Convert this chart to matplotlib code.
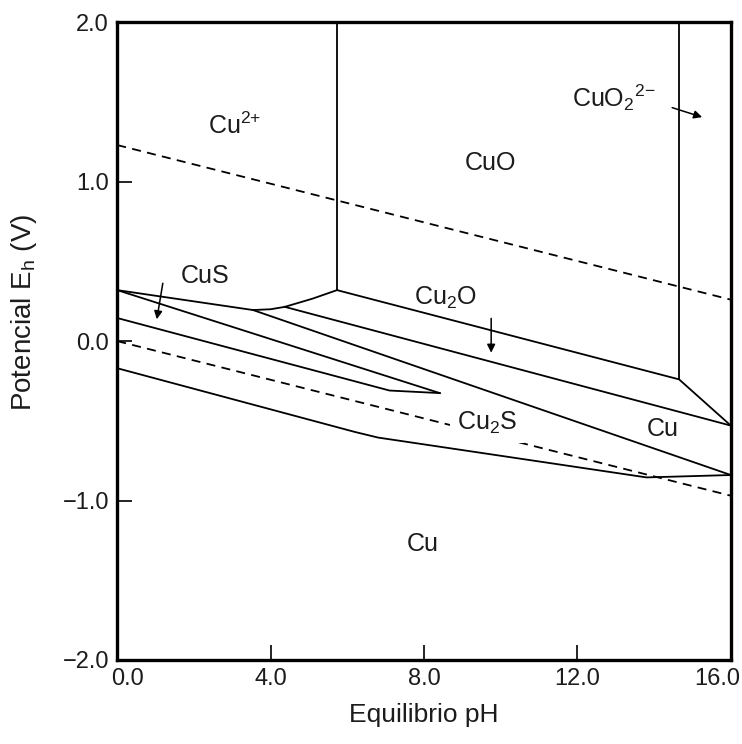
import matplotlib
matplotlib.use("Agg")
import matplotlib.pyplot as plt
import matplotlib.transforms as mtransforms

plt.rcParams["font.family"] = ["Liberation Sans", "DejaVu Sans"]
plt.rcParams["mathtext.fontset"] = "custom"
plt.rcParams["mathtext.rm"] = "Liberation Sans"
plt.rcParams["mathtext.it"] = "Liberation Sans"
plt.rcParams["mathtext.default"] = "rm"

# water stability lines (dashed)
o2_ph = [0.0, 16.0]
o2_e = [1.23, 0.26]
h2_ph = [0.0, 16.0]
h2_e = [0.0, -0.97]

# solid boundaries
cu2_cuo_ph = [5.73, 5.73]
cu2_cuo_e = [2.0, 0.32]
cuo_cuo2_ph = [14.65, 14.65]
cuo_cuo2_e = [2.0, -0.24]
cuo_cu2o_ph = [5.73, 14.65, 16.0]
cuo_cu2o_e = [0.32, -0.24, -0.53]
cus_top_ph = [0.0, 3.54, 4.0, 4.37, 5.1, 5.73]
cus_top_e = [0.32, 0.195, 0.200, 0.215, 0.267, 0.32]
cu2o_bot_ph = [4.37, 16.0]
cu2o_bot_e = [0.215, -0.53]
cu2s_top_ph = [3.54, 16.0]
cu2s_top_e = [0.195, -0.84]
cus_up_ph = [0.0, 8.41]
cus_up_e = [0.32, -0.326]
cus_low_ph = [0.0, 7.1, 8.41]
cus_low_e = [0.145, -0.31, -0.326]
cu2s_bot_ph = [0.0, 6.2, 6.8, 7.5, 8.2, 13.8, 16.0]
cu2s_bot_e = [-0.17, -0.57, -0.605, -0.63, -0.655, -0.855, -0.84]

x_ticks = [0, 4, 8, 12, 16]
x_labels = ["0.0", "4.0", "8.0", "12.0", "16.0"]
y_ticks = [-2, -1, 0, 1, 2]
y_labels = ["\u22122.0", "\u22121.0", "0.0", "1.0", "2.0"]

fig = plt.figure(figsize=(7.42, 7.44), dpi=100)
ax = fig.add_axes([0.158, 0.113, 0.827, 0.857])

lc = "black"
lw = 1.3
for xs, ys in [(cu2_cuo_ph, cu2_cuo_e), (cuo_cuo2_ph, cuo_cuo2_e), (cuo_cu2o_ph, cuo_cu2o_e),
               (cus_top_ph, cus_top_e), (cu2o_bot_ph, cu2o_bot_e), (cu2s_top_ph, cu2s_top_e),
               (cus_up_ph, cus_up_e), (cus_low_ph, cus_low_e), (cu2s_bot_ph, cu2s_bot_e)]:
    ax.plot(xs, ys, color=lc, lw=lw, solid_joinstyle="miter", zorder=3)
for xs, ys in [(o2_ph, o2_e), (h2_ph, h2_e)]:
    ax.plot(xs, ys, color=lc, lw=lw, linestyle=(0, (5, 3.5)), zorder=1)

tc = "#1c1c1c"
fs = 18
ax.text(3.07, 1.35, r"Cu$^{2{+}}$", fontsize=fs, color=tc, ha="center", va="center")
ax.text(9.72, 1.12, "CuO", fontsize=fs, color=tc, ha="center", va="center")
ax.text(12.95, 1.53, r"CuO$_2$$^{2{-}}$", fontsize=fs, color=tc, ha="center", va="center")
ax.text(2.29, 0.41, "CuS", fontsize=fs, color=tc, ha="center", va="center")
ax.text(8.57, 0.27, r"Cu$_2$O", fontsize=fs, color=tc, ha="center", va="center")
ax.text(9.64, -0.51, r"Cu$_2$S", fontsize=fs, color=tc, ha="center", va="center", zorder=2,
        bbox=dict(facecolor="white", edgecolor="none", pad=5))
ax.text(14.23, -0.55, "Cu", fontsize=fs, color=tc, ha="center", va="center")
ax.text(7.97, -1.27, "Cu", fontsize=fs, color=tc, ha="center", va="center")

arrow = dict(arrowstyle="-|>", color="black", lw=1.1, mutation_scale=12)
ax.annotate("", xy=(15.32, 1.40), xytext=(14.4, 1.47), arrowprops=arrow)
ax.annotate("", xy=(1.02, 0.12), xytext=(1.2, 0.38), arrowprops=arrow)
ax.annotate("", xy=(9.75, -0.09), xytext=(9.75, 0.16), arrowprops=arrow)

ax.set_xlim(0, 16)
ax.set_ylim(-2, 2)
ax.set_xticks(x_ticks)
ax.set_xticklabels(x_labels)
ax.set_yticks(y_ticks)
ax.set_yticklabels(y_labels)
ax.tick_params(direction="in", length=11, width=1.2, labelsize=17, colors="black",
               labelcolor=tc, pad=6)
for sp in ax.spines.values():
    sp.set_linewidth(2.4)
    sp.set_zorder(4)

# first and last x labels sit inside the frame in the original
labels = ax.get_xticklabels()
labels[0].set_transform(labels[0].get_transform() + mtransforms.ScaledTranslation(0.1, 0, fig.dpi_scale_trans))
labels[-1].set_transform(labels[-1].get_transform() + mtransforms.ScaledTranslation(-0.14, 0, fig.dpi_scale_trans))

ax.set_xlabel("Equilibrio pH", fontsize=19, color=tc)
ax.set_ylabel(r"Potencial E$_\mathrm{h}$ (V)", fontsize=20, color=tc)
ax.xaxis.set_label_coords(0.5, -0.067)
ax.yaxis.set_label_coords(-0.128, 0.545)

fig.savefig("out.png", dpi=100, facecolor="white")
